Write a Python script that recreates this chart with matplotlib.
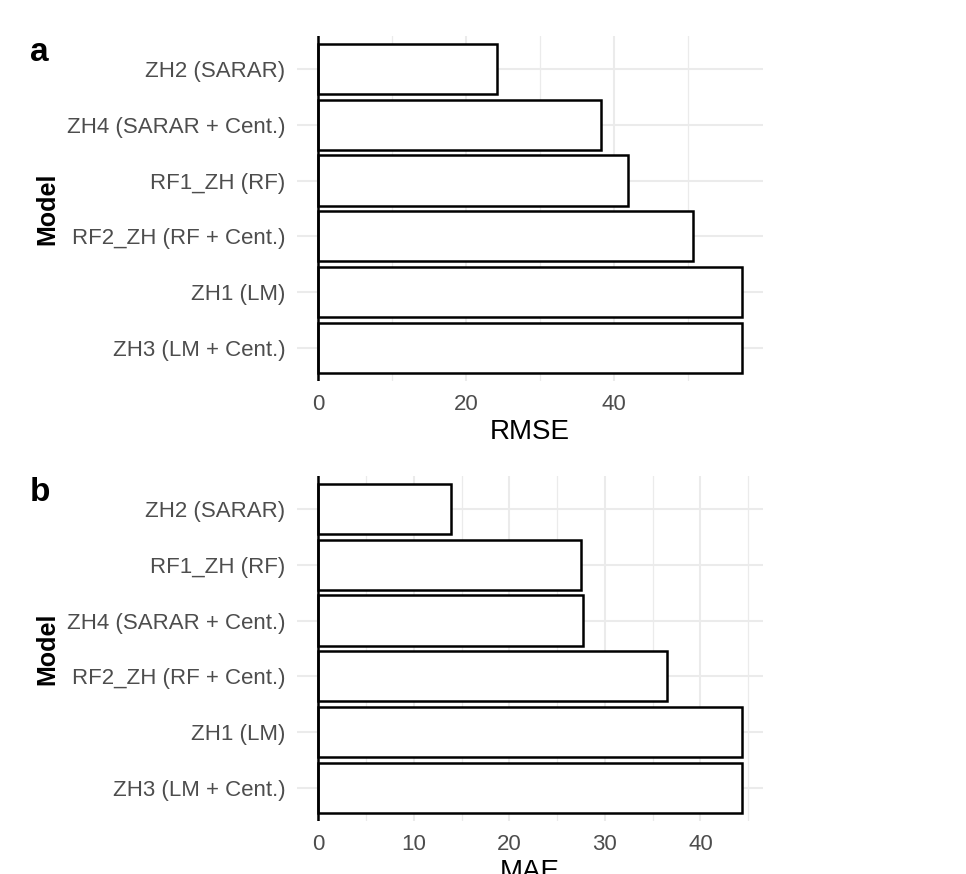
import matplotlib
matplotlib.use("Agg")
import matplotlib.pyplot as plt

plt.rcParams['font.family'] = ['Liberation Sans', 'DejaVu Sans']

models_a = ["ZH2 (SARAR)", "ZH4 (SARAR + Cent.)", "RF1_ZH (RF)",
            "RF2_ZH (RF + Cent.)", "ZH1 (LM)", "ZH3 (LM + Cent.)"]
rmse = [24.1, 38.2, 41.9, 50.6, 57.2, 57.2]
ticks_a = [0, 20, 40]
minor_a = [10, 30, 50]

models_b = ["ZH2 (SARAR)", "RF1_ZH (RF)", "ZH4 (SARAR + Cent.)",
            "RF2_ZH (RF + Cent.)", "ZH1 (LM)", "ZH3 (LM + Cent.)"]
mae = [13.9, 27.5, 27.7, 36.5, 44.3, 44.3]
ticks_b = [0, 10, 20, 30, 40]
minor_b = [5, 15, 25, 35, 45]

panels = [("a", models_a, rmse, "RMSE", ticks_a, minor_a),
          ("b", models_b, mae, "MAE", ticks_b, minor_b)]

W, H = 966, 874
fig = plt.figure(figsize=(W / 100, H / 100), dpi=100)

left_px, right_px = 297, 762.7
tops = [35.7, 475.7]
ph = 345.3

grid_c = "#EBEBEB"
for (tag, cats, vals, xl, major, minor), top in zip(panels, tops):
    ax = fig.add_axes([left_px / W, 1 - (top + ph) / H,
                       (right_px - left_px) / W, ph / H])
    y = list(range(len(cats)))
    ax.barh(y, vals, height=0.9, color="white", edgecolor="black",
            linewidth=1.8, zorder=3)
    ax.axvline(0, color="black", linewidth=1.8, zorder=4)
    vmax = max(vals)
    ax.set_xlim(-0.05 * vmax, 1.05 * vmax)
    ax.set_ylim(len(cats) - 1 + 0.6, -0.6)
    ax.set_yticks(y)
    ax.set_yticklabels(cats)
    ax.set_xticks(major)
    ax.set_xticks(minor, minor=True)
    ax.grid(which="major", color=grid_c, linewidth=1.5, zorder=0)
    ax.grid(which="minor", axis="x", color=grid_c, linewidth=0.9, zorder=0)
    ax.set_axisbelow(True)
    for s in ax.spines.values():
        s.set_visible(False)
    ax.tick_params(axis="both", which="both", length=0)
    ax.tick_params(axis="y", labelsize=16, labelcolor="#4D4D4D", pad=8.5)
    ax.tick_params(axis="x", labelsize=16, labelcolor="#4D4D4D", pad=9)
    ax.set_xlabel(xl, fontsize=20, color="black", labelpad=3)
    ax.set_ylabel("Model", fontsize=18, fontweight="bold", color="black",
                  labelpad=5)
    fig.text(30 / W, 1 - (top + 25) / H, tag, fontsize=24, fontweight="bold",
             ha="left", va="baseline")

fig.savefig("out.png", dpi=100)
